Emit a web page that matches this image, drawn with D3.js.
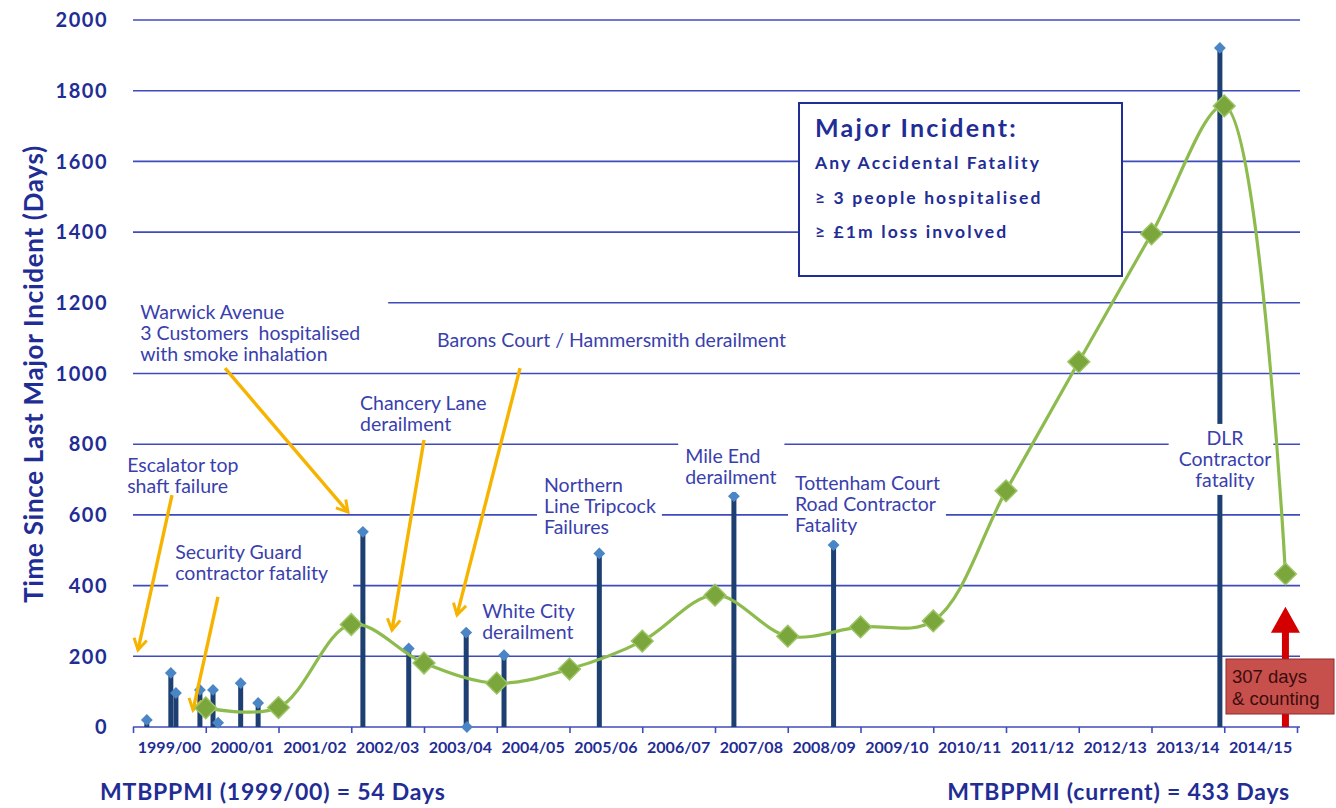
<!DOCTYPE html>
<html>
<head>
<meta charset="utf-8">
<script src="https://cdn.jsdelivr.net/npm/d3@7"></script>
<style>
  html, body { margin: 0; padding: 0; background: #ffffff; }
  svg { display: block; }
</style>
</head>
<body>
<svg id="chart" width="1336" height="808"></svg>
<script>
// Financial years along the x axis
const years = ["1999/00", "2000/01", "2001/02", "2002/03", "2003/04", "2004/05", "2005/06", "2006/07",
               "2007/08", "2008/09", "2009/10", "2010/11", "2011/12", "2012/13", "2013/14", "2014/15"];
const firstYear = 1999;

// Days elapsed in the current year
const currentDay = 307;

// Rolling mean time between major incidents, taken at the end of each year (days)
const trendYearEnd = [2000, 2001, 2002, 2003, 2004, 2005, 2006, 2007, 2008, 2009, 2010, 2011, 2012, 2013, 2014];
const trendDays = [54, 55, 290, 181, 124, 164, 243, 373, 257, 283, 300, 668, 1033, 1395, 1757];
const currentTrendDays = 433;

// Individual major incidents: when (fractional year) and days since the previous one
const incidentAt = [1999.19, 1999.52, 1999.59, 1999.92, 2000.10, 2000.17, 2000.48, 2000.72,
                    2002.16, 2002.79, 2003.58, 2003.59, 2004.10, 2005.41, 2007.26, 2008.63, 2013.94];
const incidentDays = [20, 153, 96, 105, 105, 12, 124, 68,
                      552, 222, 267, 0, 203, 491, 653, 515, 1921];

// Value-axis ticks
const yTicks = [0, 200, 400, 600, 800, 1000, 1200, 1400, 1600, 1800, 2000];

// ---------------------------------------------------------------------------
const svg = d3.select("#chart");
const plot = { left: 133, right: 1297, top: 20, bottom: 727 };

const x = d3.scaleLinear().domain([firstYear, firstYear + years.length]).range([plot.left, plot.right]);
const y = d3.scaleLinear().domain([0, 2000]).range([plot.bottom, plot.top]);

const FONT = "Lato, 'Open Sans', sans-serif";
const NAVY = "#1f2d94";
const GRID = "#3f4bbb";
const LABEL = "#3a3fae";
const BAR = "#1d3f72";
const DOT = "#4a86c6";
const GREEN_LINE = "#8dbb4e";
const GREEN_FILL = "#7aa63c";
const YELLOW = "#f6b400";

const trend = trendYearEnd.map((t, i) => ({ t, v: trendDays[i] }));
trend.push({ t: trendYearEnd[trendYearEnd.length - 1] + currentDay / 365, v: currentTrendDays });

const incidents = incidentAt.map((t, i) => ({ t, v: incidentDays[i] }));

// Gridlines
svg.append("g").selectAll("line").data(yTicks.slice(1)).join("line")
  .attr("x1", plot.left).attr("x2", plot.right + 3)
  .attr("y1", d => y(d)).attr("y2", d => y(d))
  .attr("stroke", GRID).attr("stroke-width", 1.6);

// X axis with boundary ticks
const xAxis = d3.axisBottom(x)
  .tickValues(d3.range(firstYear, firstYear + years.length + 1))
  .tickFormat("")
  .tickSize(6)
  .tickSizeOuter(0);
const gx = svg.append("g").attr("transform", `translate(0,${plot.bottom})`).call(xAxis);
gx.select(".domain").attr("stroke", GRID).attr("stroke-width", 1.6).attr("d", `M${plot.left},0H${plot.right + 3}`);
gx.selectAll(".tick line").attr("stroke", GRID).attr("stroke-width", 1.6);

// Year labels centred on each year
svg.append("g").selectAll("text").data(years).join("text")
  .attr("x", (d, i) => x(firstYear + i + 0.5))
  .attr("y", 753)
  .attr("text-anchor", "middle")
  .attr("font-family", FONT)
  .attr("font-weight", 700)
  .attr("font-size", 16)
  .attr("fill", NAVY)
  .text(d => d);

// Y tick labels
svg.append("g").selectAll("text").data(yTicks).join("text")
  .attr("x", 108)
  .attr("y", d => y(d))
  .attr("dy", "0.36em")
  .attr("text-anchor", "end")
  .attr("font-family", FONT)
  .attr("font-weight", 700)
  .attr("font-size", 20)
  .attr("letter-spacing", 1.5)
  .attr("fill", NAVY)
  .text(d => d);

// Y axis title
svg.append("text")
  .attr("transform", `translate(43,374) rotate(-90)`)
  .attr("text-anchor", "middle")
  .attr("font-family", FONT)
  .attr("font-weight", 700)
  .attr("font-size", 26)
  .attr("letter-spacing", 0.7)
  .attr("fill", NAVY)
  .text("Time Since Last Major Incident (Days)");

// Incident stems with diamond tops
svg.append("g").selectAll("line").data(incidents).join("line")
  .attr("x1", d => x(d.t)).attr("x2", d => x(d.t))
  .attr("y1", y(0)).attr("y2", d => y(d.v))
  .attr("stroke", BAR).attr("stroke-width", 5);
svg.append("g").selectAll("path").data(incidents).join("path")
  .attr("transform", d => `translate(${x(d.t)},${y(d.v)})`)
  .attr("d", d3.symbol(d3.symbolDiamond2, 90))
  .attr("fill", DOT);

// Incident labels, on a white backing that hides the grid behind them
const notes = [
  { lines: ["Escalator top", "shaft failure"], t: 1998.92, v: 721 },
  { lines: ["Warwick Avenue", "3 Customers  hospitalised", "with smoke inhalation"], t: 1999.10, v: 1154, padR: 28, padL: 10 },
  { lines: ["Barons Court / Hammersmith derailment"], t: 2003.18, v: 1075 },
  { lines: ["Chancery Lane", "derailment"], t: 2002.12, v: 897 },
  { lines: ["Security Guard", "contractor fatality"], t: 1999.58, v: 475, padR: 25 },
  { lines: ["White City", "derailment"], t: 2003.80, v: 308 },
  { lines: ["Northern", "Line Tripcock", "Failures"], t: 2004.65, v: 665 },
  { lines: ["Mile End", "derailment"], t: 2006.59, v: 747, padR: 8 },
  { lines: ["Tottenham Court", "Road Contractor", "Fatality"], t: 2008.10, v: 670 },
  { lines: ["DLR", "Contractor", "fatality"], t: 2014.01, v: 798, anchor: "middle", padL: 10, padR: 2 }
];

const noteG = svg.append("g");
notes.forEach(n => {
  const g = noteG.append("g");
  const bg = g.append("rect").attr("fill", "#ffffff");
  const tx = g.append("text")
    .attr("font-family", FONT)
    .attr("font-size", 19.5)
    .attr("fill", LABEL)
    .attr("text-anchor", n.anchor || "start");
  n.lines.forEach((s, i) => {
    tx.append("tspan")
      .attr("x", x(n.t))
      .attr("y", y(n.v) + i * 21)
      .attr("xml:space", "preserve")
      .text(s);
  });
  const b = tx.node().getBBox();
  const pl = n.padL ?? 7, pr = n.padR ?? 6;
  bg.attr("x", b.x - pl).attr("y", b.y - 2)
    .attr("width", b.width + pl + pr).attr("height", b.height + 6);
});

// Trend line (smoothed)
const line = d3.line().x(d => x(d.t)).y(d => y(d.v)).curve(d3.curveCatmullRom.alpha(0.5));
svg.append("path").datum(trend)
  .attr("d", line)
  .attr("fill", "none")
  .attr("stroke", GREEN_LINE)
  .attr("stroke-width", 3.2);

// Yellow pointer arrows from labels to incidents
const defs = svg.append("defs");
defs.append("marker")
  .attr("id", "chev")
  .attr("viewBox", "0 0 16 16")
  .attr("refX", 13).attr("refY", 8)
  .attr("markerWidth", 16).attr("markerHeight", 16)
  .attr("markerUnits", "userSpaceOnUse")
  .attr("orient", "auto")
  .append("path")
  .attr("d", "M2,1.5 L13,8 L2,14.5")
  .attr("fill", "none")
  .attr("stroke", YELLOW)
  .attr("stroke-width", 3)
  .attr("stroke-linejoin", "miter");

const pointers = [
  { from: [1999.536, 656], to: [1999.069, 218] },
  { from: [2000.168, 368], to: [1999.825, 48] },
  { from: [2000.265, 1015], to: [2001.955, 608] },
  { from: [2003.00, 812], to: [2002.56, 274] },
  { from: [2004.32, 1015], to: [2003.454, 317] }
];
svg.append("g").selectAll("line").data(pointers).join("line")
  .attr("x1", d => x(d.from[0])).attr("y1", d => y(d.from[1]))
  .attr("x2", d => x(d.to[0])).attr("y2", d => y(d.to[1]))
  .attr("stroke", YELLOW)
  .attr("stroke-width", 3.4)
  .attr("marker-end", "url(#chev)");

// Trend markers
svg.append("g").selectAll("path").data(trend).join("path")
  .attr("transform", d => `translate(${x(d.t)},${y(d.v)})`)
  .attr("d", d3.symbol(d3.symbolDiamond2, 300))
  .attr("fill", GREEN_FILL)
  .attr("stroke", "#9cc464")
  .attr("stroke-width", 1.5);

// Definition box
const box = svg.append("g");
box.append("rect")
  .attr("x", 799).attr("y", 103).attr("width", 323).attr("height", 173)
  .attr("fill", "#ffffff").attr("stroke", NAVY).attr("stroke-width", 2);
const boxText = [
  { s: "Major Incident:", size: 25, spacing: 2.3, base: 137 },
  { s: "Any Accidental Fatality", size: 17.5, spacing: 2.1, base: 169 },
  { s: "\u2265 3 people hospitalised", size: 17.5, spacing: 2.1, base: 204 },
  { s: "\u2265 \u00a31m loss involved", size: 17.5, spacing: 2.1, base: 238 }
];
box.selectAll("text").data(boxText).join("text")
  .attr("x", 815).attr("y", d => d.base)
  .attr("font-family", FONT)
  .attr("font-weight", 700)
  .attr("font-size", d => d.size)
  .attr("letter-spacing", d => d.spacing)
  .attr("fill", NAVY)
  .text(d => d.s);

// Red "counting" arrow for the current year
const nowT = trend[trend.length - 1].t;
const ax = x(nowT);
const arrowTop = y(340);
svg.append("path")
  .attr("d", `M${ax - 3.5},${y(0)} V${arrowTop + 26} H${ax - 14.5} L${ax},${arrowTop} L${ax + 14.5},${arrowTop + 26} H${ax + 3.5} V${y(0)} Z`)
  .attr("fill", "#d40000");

const counter = svg.append("g");
counter.append("rect")
  .attr("x", 1226).attr("y", 659).attr("width", 108).attr("height", 55)
  .attr("fill", "#c8504c").attr("stroke", "#8e2b28").attr("stroke-width", 1);
counter.selectAll("text").data([`${currentDay} days`, "& counting"]).join("text")
  .attr("x", 1232).attr("y", (d, i) => 683 + i * 22)
  .attr("font-family", "'Liberation Sans', Arial, sans-serif")
  .attr("font-size", 18.5)
  .attr("fill", "#3b0d0d")
  .text(d => d);

// Footer figures
svg.append("text")
  .attr("x", 100).attr("y", 800)
  .attr("font-family", FONT)
  .attr("font-weight", 700).attr("font-size", 23).attr("letter-spacing", 0.8)
  .attr("fill", NAVY)
  .text(`MTBPPMI (${years[0]}) = ${trendDays[0]} Days`);
svg.append("text")
  .attr("x", 1290).attr("y", 800)
  .attr("text-anchor", "end")
  .attr("font-family", FONT)
  .attr("font-weight", 700).attr("font-size", 23).attr("letter-spacing", 0.8)
  .attr("fill", NAVY)
  .text(`MTBPPMI (current) = ${currentTrendDays} Days`);
</script>
</body>
</html>
